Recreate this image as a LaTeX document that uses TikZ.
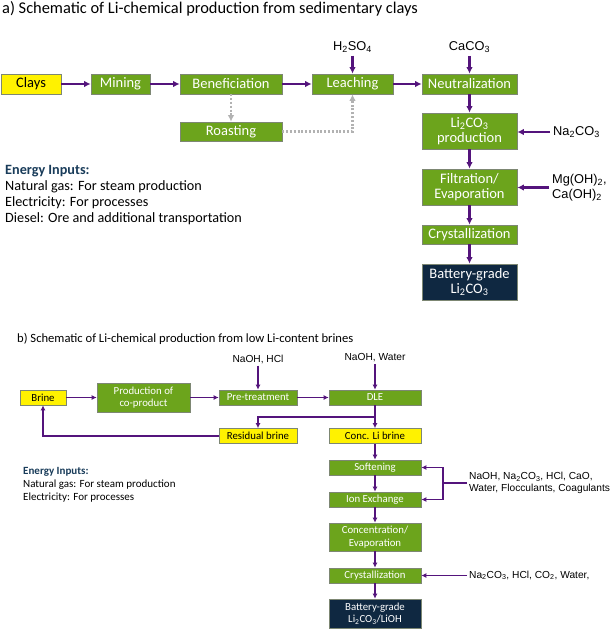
\documentclass[tikz,border=0pt]{standalone}
\usepackage{xcolor}
\usepackage{fontspec}
\setmainfont{Carlito}
\newfontfamily\arialfont{Liberation Sans}
\usetikzlibrary{positioning,calc,arrows.meta}

\definecolor{procgreen}{RGB}{108,164,28}
\definecolor{flowpurple}{RGB}{84,20,124}
\definecolor{navybox}{RGB}{15,40,65}
\definecolor{energyblue}{RGB}{25,60,90}
\definecolor{boxedge}{RGB}{125,135,115}

\tikzset{
    box/.style={draw=boxedge, line width=0.7pt, inner sep=0pt, align=center, text=white, fill=procgreen},
    proca/.style={box, minimum height=20pt, font=\fontsize{14.5}{15.5}\selectfont},
    procb/.style={box, minimum height=15pt, minimum width=92pt, font=\fontsize{10.8}{12.5}\selectfont},
    feed/.style={fill=yellow, text=black},
    final/.style={fill=navybox},
    chema/.style={inner sep=3pt, align=left, font=\arialfont\fontsize{12.8}{15}\selectfont},
    chemb/.style={inner sep=2pt, align=left, font=\arialfont\fontsize{10.2}{12}\selectfont},
    flowa/.style={->, >={Latex[length=6.5pt,width=6.5pt]}, line width=2.1pt, draw=flowpurple},
    flowb/.style={->, >={Latex[length=5pt,width=5pt]}, line width=1.7pt, draw=flowpurple},
    dotflow/.style={->, >={Latex[length=6.5pt,width=6.5pt]}, line width=2.2pt, draw=black!30, dash pattern=on 2pt off 1.8pt},
}

\begin{document}
\begin{tikzpicture}[x=1pt, y=-1pt]
    \useasboundingbox[fill=white] (0,0) rectangle (614,629);

    % a) sedimentary clays
    \node (titlea) [anchor=west, inner sep=0pt, font=\fontsize{16.4}{18}\selectfont] at (2,8.5) {a) Schematic of Li-chemical production from sedimentary clays};

    \node (clays) [proca, feed, minimum width=60pt] at (31,84) {Clays};
    \node (mining) [proca, minimum width=59pt] at (120.5,84) {Mining};
    \node (benef) [proca, minimum width=102pt] at (231,84) {Beneficiation};
    \node (leach) [proca, minimum width=81pt] at (352.5,84) {Leaching};
    \node (neutr) [proca, minimum width=95pt] at (469.5,84) {Neutralization};
    \node (roast) [proca, minimum width=102pt, minimum height=19pt] at (231,131.5) {Roasting};
    \node (liprod) [proca, minimum width=95pt, minimum height=36pt] at (469.5,131) {Li\textsubscript{2}CO\textsubscript{3}\\production};
    \node (filt) [proca, minimum width=95pt, minimum height=36pt] at (469.5,187) {Filtration/\\Evaporation};
    \node (crysta) [proca, minimum width=95pt, minimum height=19pt] at (469.5,234.5) {Crystallization};
    \node (batta) [proca, final, minimum width=95pt, minimum height=36pt] at (469.5,282) {Battery-grade\\Li\textsubscript{2}CO\textsubscript{3}};

    \node (hso) [chema] at (352.5,47) {H\textsubscript{2}SO\textsubscript{4}};
    \node (caco) [chema] at (469.5,47) {CaCO\textsubscript{3}};
    \node (naco) [chema, anchor=west] at (550,132) {Na\textsubscript{2}CO\textsubscript{3}};
    \node (mgca) [chema, anchor=west] at (549,187.5) {Mg(OH)\textsubscript{2},\\Ca(OH)\textsubscript{2}};

    \draw[flowa] (clays) -- (mining);
    \draw[flowa] (mining) -- (benef);
    \draw[flowa] (benef) -- (leach);
    \draw[flowa] (leach) -- (neutr);
    \draw[flowa] (hso) -- (leach);
    \draw[flowa] (caco) -- (neutr);
    \draw[flowa] (neutr) -- (liprod);
    \draw[flowa] (liprod) -- (filt);
    \draw[flowa] (filt) -- (crysta);
    \draw[flowa] (crysta) -- (batta);
    \draw[flowa] (naco.west) -- (naco.west -| liprod.east);
    \draw[flowa] (mgca.west) -- (mgca.west -| filt.east);
    \draw[dotflow] (benef) -- (roast);
    \draw[dotflow] (roast.east) -| (leach.south);

    \node (energya) [anchor=north west, inner sep=0pt, align=left, font=\fontsize{14.2}{16}\selectfont] at (5,165.5) {{\color{energyblue}\bfseries Energy Inputs:}\\Natural gas: For steam production\\Electricity: For processes\\Diesel: Ore and additional transportation};

    % b) low Li-content brines
    \node (titleb) [anchor=west, inner sep=0pt, font=\fontsize{12.6}{14}\selectfont] at (17,339) {b) Schematic of Li-chemical production from low Li-content brines};

    \node (brine) [procb, feed, minimum width=46pt] at (43,397.5) {Brine};
    \node (coprod) [procb, minimum width=93pt, minimum height=29pt] at (143.5,397.5) {Production of\\co-product};
    \node (pretr) [procb, minimum width=78pt] at (258,397.5) {Pre-treatment};
    \node (dle) [procb] at (375,397.5) {DLE};
    \node (resid) [procb, feed, minimum width=78pt] at (258,436) {Residual brine};
    \node (conc) [procb, feed] at (375,436) {Conc. Li brine};
    \node (soft) [procb] at (375,467.5) {Softening};
    \node (ionex) [procb] at (375,499.5) {Ion Exchange};
    \node (concev) [procb, minimum height=28pt] at (375,537) {Concentration/\\Evaporation};
    \node (crystb) [procb] at (375,575.5) {Crystallization};
    \node (battb) [procb, final, minimum height=29pt] at (375,613.5) {Battery-grade\\Li\textsubscript{2}CO\textsubscript{3}/LiOH};

    \node (naohhcl) [chemb] at (258,359) {NaOH, HCl};
    \node (naohwater) [chemb] at (375,358) {NaOH, Water};
    \node (additives) [chemb, anchor=west] at (467,483) {NaOH, Na\textsubscript{2}CO\textsubscript{3}, HCl, CaO,\\Water, Flocculants, Coagulants};
    \node (carbonate) [chemb, anchor=west] at (467,575.5) {Na\textsubscript{2}CO\textsubscript{3}, HCl, CO\textsubscript{2}, Water,};

    \coordinate (split) at (375,417);
    \coordinate (bracket) at (443,483);

    \draw[flowb] (brine) -- (coprod);
    \draw[flowb] (coprod) -- (pretr);
    \draw[flowb] (pretr) -- (dle);
    \draw[flowb] (naohhcl) -- (pretr);
    \draw[flowb] (naohwater) -- (dle);
    \draw[flowb] (dle) -- (conc);
    \draw[flowb] (split) -| (resid);
    \draw[flowb] (resid.west) -| (brine.south);
    \draw[flowb] (conc) -- (soft);
    \draw[flowb] (soft) -- (ionex);
    \draw[flowb] (ionex) -- (concev);
    \draw[flowb] (concev) -- (crystb);
    \draw[flowb] (crystb) -- (battb);
    \draw[flowb, -] (additives.west) -- (bracket);
    \draw[flowb] (bracket) |- (soft.east);
    \draw[flowb] (bracket) |- (ionex.east);
    \draw[flowb] (carbonate.west) -- (carbonate.west -| crystb.east);

    \node (energyb) [anchor=north west, inner sep=0pt, align=left, font=\fontsize{11}{13}\selectfont] at (23,467) {{\color{energyblue}\bfseries Energy Inputs:}\\Natural gas: For steam production\\Electricity: For processes};
\end{tikzpicture}
\end{document}
